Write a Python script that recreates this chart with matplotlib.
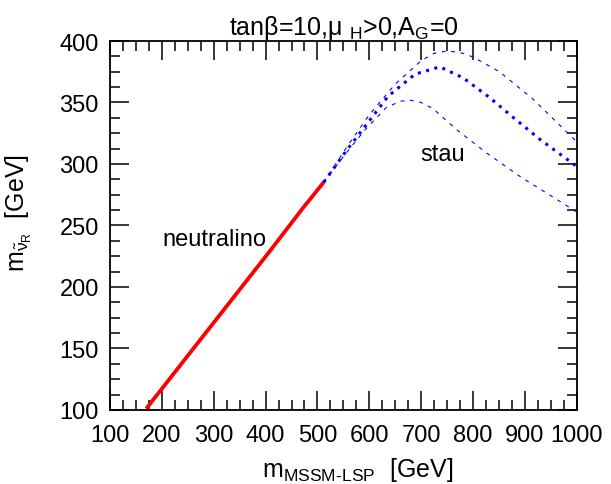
import matplotlib
matplotlib.use("Agg")
import matplotlib.pyplot as plt
from matplotlib.ticker import MultipleLocator

plt.rcParams['font.family'] = ['Liberation Sans', 'DejaVu Sans']
plt.rcParams['mathtext.fontset'] = 'custom'
plt.rcParams['mathtext.rm'] = 'Liberation Sans'
plt.rcParams['mathtext.it'] = 'Liberation Sans'

# neutralino LSP region (red)
neut_x = [170, 250, 330, 410, 470, 512]
neut_y = [101, 144, 187, 230, 263, 285]

# stau LSP region (blue), central + upper/lower bands
stau_x = [512, 556, 598, 636, 688, 736, 781, 832, 877, 929, 1000]
stau_y = [285, 311, 334, 355, 373, 379, 370, 354, 338, 320, 298]
up_x = [512, 560, 600, 650, 700, 725, 752, 780, 800, 851, 915, 1000]
up_y = [285, 316, 340, 365, 384, 390, 392, 390, 387, 375, 353, 318]
lo_x = [512, 550, 590, 633, 660, 678, 700, 723, 768, 826, 890, 1000]
lo_y = [285, 306, 327, 346, 351, 352, 350, 345, 328, 309, 290, 261]

fig = plt.figure(figsize=(6.11, 4.85), dpi=100)
ax = fig.add_axes([0.18, 0.1526, 0.764, 0.7608])

ax.plot(neut_x, neut_y, color='red', lw=2.6, solid_capstyle='butt')
ax.plot(neut_x, [v + 1.5 for v in neut_y], color='red', lw=1.0)

ax.plot(stau_x, stau_y, color='blue', lw=2.2, linestyle=(0, (1, 1.8)))
ax.plot(up_x, up_y, color='blue', lw=0.8, linestyle=(0, (3.5, 5)))
ax.plot(lo_x, lo_y, color='blue', lw=0.8, linestyle=(0, (3.5, 5)))

ax.text(202, 239, 'neutralino', fontsize=17, ha='left', va='center')
ax.text(742, 308, 'stau', fontsize=17, ha='center', va='center')

ax.set_xlim(100, 1000)
ax.set_ylim(100, 400)
ax.xaxis.set_major_locator(MultipleLocator(100))
ax.xaxis.set_minor_locator(MultipleLocator(25))
ax.yaxis.set_major_locator(MultipleLocator(50))
ax.yaxis.set_minor_locator(MultipleLocator(12.5))
ax.tick_params(which='both', direction='in', top=True, right=True, width=1.1, labelsize=17)
ax.tick_params(which='major', length=14)
ax.tick_params(which='minor', length=7)
ax.tick_params(axis='x', pad=10)
ax.tick_params(axis='y', pad=8)
for s in ax.spines.values():
    s.set_linewidth(1.3)

ax.set_title(r'tan$\beta$=10,$\mu$ $_H$>0,A$_G$=0', fontsize=18, pad=4)
ax.set_xlabel(r'm$_{MSSM\text{-}LSP}$  [GeV]', fontsize=18)
ax.set_ylabel(r'm$_{\tilde{\nu}_R}$  [GeV]', fontsize=18)
ax.xaxis.set_label_coords(0.53, -0.122)
ax.yaxis.set_label_coords(-0.163, 0.537)

fig.savefig('out.png', dpi=100)
